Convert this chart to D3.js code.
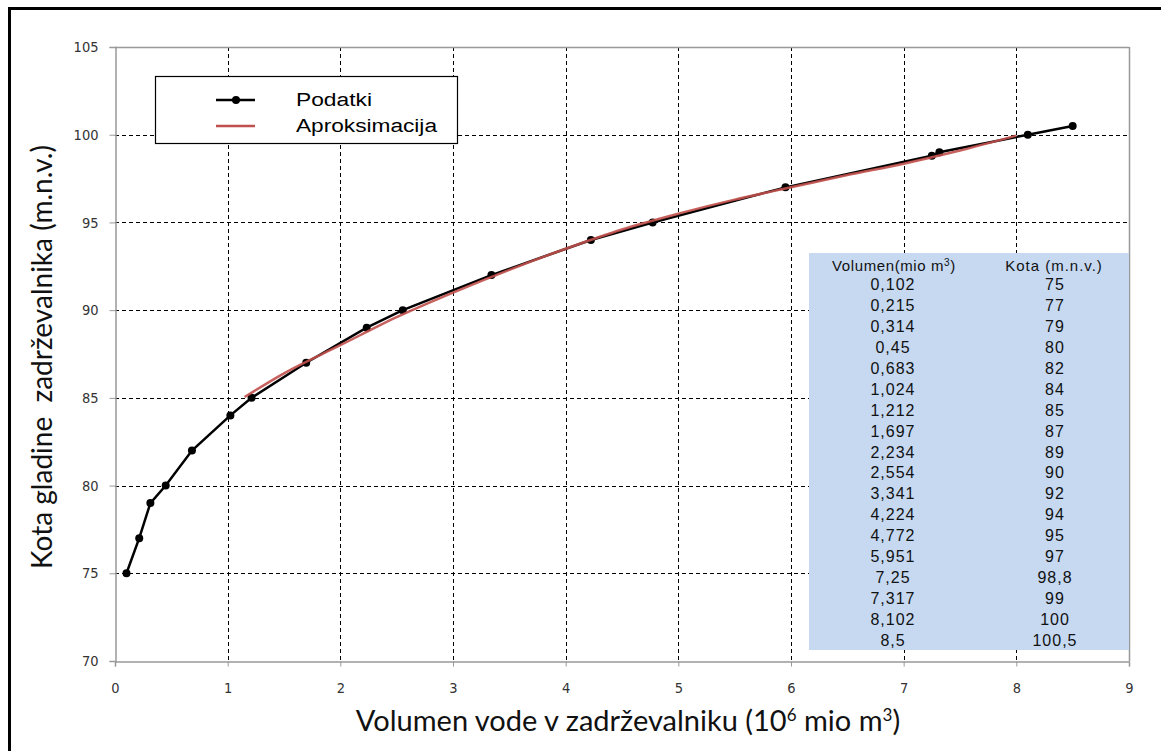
<!DOCTYPE html>
<html>
<head>
<meta charset="utf-8">
<script src="https://cdn.jsdelivr.net/npm/d3@7"></script>
<style>
  body { margin: 0; background: #fff; }
  svg { display: block; }
</style>
</head>
<body>
<script>
// measured data (volumen in mio m3, kota in m.n.v.)
var volumen = [0.102, 0.215, 0.314, 0.45, 0.683, 1.024, 1.212, 1.697, 2.234, 2.554, 3.341, 4.224, 4.772, 5.951, 7.25, 7.317, 8.102, 8.5];
var kota = [75, 77, 79, 80, 82, 84, 85, 87, 89, 90, 92, 94, 95, 97, 98.8, 99, 100, 100.5];
var volumenLabels = ["0,102", "0,215", "0,314", "0,45", "0,683", "1,024", "1,212", "1,697", "2,234", "2,554", "3,341", "4,224", "4,772", "5,951", "7,25", "7,317", "8,102", "8,5"];
var kotaLabels = ["75", "77", "79", "80", "82", "84", "85", "87", "89", "90", "92", "94", "95", "97", "98,8", "99", "100", "100,5"];

// approximation curve
var fitX = [1.15, 1.5, 2.0, 2.5, 3.0, 3.5, 4.0, 4.5, 5.0, 5.5, 6.0, 6.5, 7.0, 7.5, 8.0];
var fitY = [85.05, 86.4, 88.0, 89.6, 91.0, 92.3, 93.5, 94.6, 95.5, 96.3, 97.0, 97.7, 98.35, 99.1, 99.95];

var xTicks = [0, 1, 2, 3, 4, 5, 6, 7, 8, 9];
var yTicks = [70, 75, 80, 85, 90, 95, 100, 105];

var W = 1161, H = 751;
var pl = 115, pr = 1129, pt = 47, pb = 661;

var svg = d3.select("body").append("svg")
    .attr("width", W)
    .attr("height", H);

var x = d3.scaleLinear().domain([0, 9]).range([pl, pr]);
var y = d3.scaleLinear().domain([70, 105]).range([pb, pt]);

// outer frame (only top and left visible)
svg.append("line").attr("x1", 8).attr("x2", W).attr("y1", 8.5).attr("y2", 8.5)
    .attr("stroke", "#000").attr("stroke-width", 3);
svg.append("line").attr("x1", 9.5).attr("x2", 9.5).attr("y1", 7).attr("y2", H)
    .attr("stroke", "#000").attr("stroke-width", 3);

// grid
var grid = svg.append("g");
grid.selectAll(".vg").data(xTicks.slice(1, -1)).enter().append("line")
    .attr("x1", function (d) { return Math.round(x(d)) + 0.5 })
    .attr("x2", function (d) { return Math.round(x(d)) + 0.5 })
    .attr("y1", pt).attr("y2", pb)
    .attr("stroke", "#000").attr("stroke-dasharray", "4,3");
grid.selectAll(".hg").data(yTicks.slice(1, -1)).enter().append("line")
    .attr("y1", function (d) { return Math.round(y(d)) + 0.5 })
    .attr("y2", function (d) { return Math.round(y(d)) + 0.5 })
    .attr("x1", pl).attr("x2", pr)
    .attr("stroke", "#000").attr("stroke-dasharray", "4,3");

// plot frame top/right
svg.append("line").attr("x1", pl).attr("x2", pr + 0.5).attr("y1", pt + 0.5).attr("y2", pt + 0.5)
    .attr("stroke", "#999").attr("stroke-width", 1.5);
svg.append("line").attr("x1", pr + 0.5).attr("x2", pr + 0.5).attr("y1", pt).attr("y2", pb)
    .attr("stroke", "#999").attr("stroke-width", 1.5);

// axes
var xAxis = svg.append("g")
    .attr("transform", "translate(0," + (pb + 0.5) + ")")
    .call(d3.axisBottom(x).tickValues(xTicks).tickSize(5).tickPadding(16).tickFormat(d3.format("d")));
var yAxis = svg.append("g")
    .attr("transform", "translate(" + (pl + 0.5) + ",0)")
    .call(d3.axisLeft(y).tickValues(yTicks).tickSize(6).tickPadding(11).tickFormat(d3.format("d")));

[xAxis, yAxis].forEach(function (a) {
    a.select(".domain").attr("stroke", "#999").attr("stroke-width", 1.5);
    a.selectAll(".tick line").attr("stroke", "#999");
    a.selectAll("text").attr("fill", "#333")
        .style("font-family", "'DejaVu Sans Condensed', 'Liberation Sans Narrow', sans-serif")
        .style("font-size", "14.5px");
});

// data line
var line = d3.line().x(function (d) { return x(d[0]) }).y(function (d) { return y(d[1]) });
var pts = volumen.map(function (v, i) { return [v, kota[i]] });
svg.append("path").datum(pts)
    .attr("d", line)
    .attr("fill", "none").attr("stroke", "#000").attr("stroke-width", 2.5);
svg.selectAll(".pt").data(pts).enter().append("circle")
    .attr("cx", function (d) { return x(d[0]) })
    .attr("cy", function (d) { return y(d[1]) })
    .attr("r", 4).attr("fill", "#000");

// approximation
var fitPts = fitX.map(function (v, i) { return [v, fitY[i]] });
svg.append("path").datum(fitPts)
    .attr("d", line.curve(d3.curveMonotoneX))
    .attr("fill", "none").attr("stroke", "#c0504d").attr("stroke-width", 2.5).attr("stroke-opacity", 0.9);

// data table
var tbl = svg.append("g");
tbl.append("rect").attr("x", 809).attr("y", 253).attr("width", 320).attr("height", 397)
    .attr("fill", "#c6d9f1");
var tf = "'Liberation Sans', Arial, sans-serif";
var h1 = tbl.append("text").attr("x", 894).attr("y", 271).attr("text-anchor", "middle")
    .style("font-family", tf).style("font-size", "15px").style("letter-spacing", "0.6px").attr("fill", "#111");
h1.append("tspan").text("Volumen(mio m");
h1.append("tspan").attr("dy", -5).style("font-size", "10px").text("3");
h1.append("tspan").attr("dy", 5).text(")");
tbl.append("text").attr("x", 1054).attr("y", 271).attr("text-anchor", "middle")
    .style("font-family", tf).style("font-size", "15px").style("letter-spacing", "1px").attr("fill", "#111").text("Kota (m.n.v.)");
tbl.selectAll(".c1").data(volumenLabels).enter().append("text")
    .attr("x", 893).attr("y", function (d, i) { return 290 + i * 20.94 })
    .attr("text-anchor", "middle").style("font-family", tf).style("font-size", "16px")
    .style("letter-spacing", "1px").attr("fill", "#111")
    .text(function (d) { return d });
tbl.selectAll(".c2").data(kotaLabels).enter().append("text")
    .attr("x", 1055).attr("y", function (d, i) { return 290 + i * 20.94 })
    .attr("text-anchor", "middle").style("font-family", tf).style("font-size", "16px")
    .style("letter-spacing", "1px").attr("fill", "#111")
    .text(function (d) { return d });

// legend
var lg = svg.append("g");
lg.append("rect").attr("x", 155.5).attr("y", 76.5).attr("width", 302).attr("height", 67)
    .attr("fill", "#fff").attr("stroke", "#000").attr("stroke-width", 1.2);
lg.append("line").attr("x1", 216).attr("x2", 255).attr("y1", 100).attr("y2", 100)
    .attr("stroke", "#000").attr("stroke-width", 2.5);
lg.append("circle").attr("cx", 236).attr("cy", 100).attr("r", 4).attr("fill", "#000");
lg.append("line").attr("x1", 216).attr("x2", 255).attr("y1", 126).attr("y2", 126)
    .attr("stroke", "#c0504d").attr("stroke-width", 2.5);
lg.append("text").attr("x", 296).attr("y", 106).text("Podatki")
    .attr("textLength", 76).attr("lengthAdjust", "spacingAndGlyphs")
    .style("font-family", tf).style("font-size", "18px").attr("fill", "#000");
lg.append("text").attr("x", 296).attr("y", 132).text("Aproksimacija")
    .attr("textLength", 141).attr("lengthAdjust", "spacingAndGlyphs")
    .style("font-family", tf).style("font-size", "18px").attr("fill", "#000");

// axis titles
var af = "Lato, 'Open Sans', sans-serif";
var xt = svg.append("text").attr("x", 628).attr("y", 731).attr("text-anchor", "middle")
    .style("font-family", af).style("font-size", "29px").attr("fill", "#111");
xt.append("tspan").text("Volumen vode v zadrževalniku (10");
xt.append("tspan").attr("dy", -10).style("font-size", "17px").text("6");
xt.append("tspan").attr("dy", 10).text(" mio m");
xt.append("tspan").attr("dy", -10).style("font-size", "17px").text("3");
xt.append("tspan").attr("dy", 10).text(")");

svg.append("text").attr("transform", "translate(52,357) rotate(-90)").attr("text-anchor", "middle")
    .style("font-family", af).style("font-size", "28px").attr("fill", "#111")
    .style("white-space", "pre")
    .text("Kota gladine  zadrževalnika (m.n.v.)");
</script>
</body>
</html>
